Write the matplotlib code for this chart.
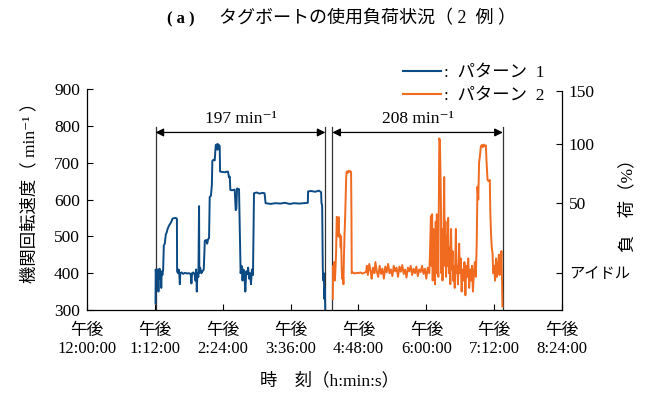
import numpy as np
import matplotlib.pyplot as plt
from matplotlib.lines import Line2D

plt.rcParams['font.family'] = ['Liberation Serif', 'Noto Sans CJK JP', 'DejaVu Sans']

# time in minutes after 12:00:00 (afternoon)
tick_minutes = [0, 72, 144, 216, 288, 360, 432, 504]
tick_labels = ['午後\n12:00:00', '午後\n1:12:00', '午後\n2:24:00', '午後\n3:36:00',
               '午後\n4:48:00', '午後\n6:00:00', '午後\n7:12:00', '午後\n8:24:00']

# pattern 1 (engine speed, min^-1)
p1_time = [72.7, 72.9, 73.5, 74.0, 74.6, 75.2, 75.8, 76.3, 77.0, 77.6, 78.2, 78.8, 79.3, 80.0, 80.8,
           81.5, 82.5, 83.6, 84.5, 85.5, 87.2, 88.5, 89.5, 90.7, 92.0, 94.0, 95.4,
           95.6, 96.5, 97.3, 98.0, 98.5, 99.0, 100.5, 102, 104, 106, 108, 110, 110.8, 111.5, 113,
           114.3, 115, 115.8, 116.5, 117.2, 118.2, 118.9, 119.2, 120, 121.4, 122.5, 123.9,
           125, 126.5, 127.5, 128.5, 129.5, 130.2, 131.5, 132.5, 133.0, 134.3, 135.5, 136.6, 138,
           138.5, 139.2, 140.8, 141.2, 143, 146, 149.6, 150.7, 151.5, 152.1, 154, 156.7, 157.8,
           158.5, 159.2, 161.3,
           163.0, 164, 165, 166, 167, 168, 169, 170, 171, 172, 173, 174, 175, 176.1,
           177.2, 180, 183, 186, 188.4, 189.5, 195, 200, 205, 210, 215, 220, 225, 230, 234.3,
           234.6, 238, 242, 246, 248.4, 248.8, 249.5, 250.2, 250.8, 251.3, 251.8, 252.3, 252.8]
p1_speed = [318, 410, 395, 405, 380, 410, 350, 400, 412, 385, 400, 360, 405, 395, 410,
            475, 480, 505, 510, 520, 530, 535, 540, 548, 549, 550, 548,
            405, 400, 410, 395, 370, 400, 402, 398, 401, 399, 400, 398, 372, 400, 402,
            395, 380, 410, 350, 400, 390, 582, 400, 415, 400, 405, 410,
            488, 490, 480, 492, 495, 607, 610, 640, 705, 708, 706, 748, 750,
            735, 750, 745, 676, 675, 674, 676, 660, 662, 626, 625, 627, 571,
            575, 630, 628,
            400, 420, 380, 410, 395, 350, 405, 398, 415, 385, 400, 370, 410, 395,
            617, 619, 616, 618, 617, 590, 588, 590, 589, 591, 588, 590, 589, 590, 591,
            622, 623, 621, 624, 620, 590, 585, 410, 380, 400, 330, 360, 300]

# pattern 2 (engine speed, min^-1)
p2_time = [260.8, 261.2, 261.8, 262.4, 263.0, 263.6, 264.3, 265.0, 265.6, 266.2, 267.1, 267.5,
           267.9, 268.5, 269.2, 269.6, 270.2, 270.7, 271.3, 272.1, 272.6, 273.2, 274.0, 275.0,
           275.6, 276.5, 277.5, 278.5, 279.5, 280.2, 280.6, 280.9, 282, 284, 286, 288, 290, 292,
           294, 296.1,
           297, 298, 299.5, 301, 302, 303.5, 305, 306, 307.5, 309, 310.5, 312, 313.5, 315, 316.5,
           318, 319.5, 321, 322.5, 324, 325.5, 327, 328.5, 330, 331.5, 333, 334.5, 336, 337.5,
           339, 340.5, 342, 343.5, 345, 346.5, 348, 349.5, 351, 352.5, 354, 355.5, 357, 358.5,
           360, 361.5, 363.2,
           364.0, 364.9, 365.5, 366.2, 366.8, 367.5, 368.0, 368.7, 369.3, 370.0, 370.6, 371.2,
           372.0, 372.8, 373.8, 374.5, 375.5, 376.0, 376.6, 377.2, 378.0, 379.0, 379.6, 380.3,
           381.0, 381.7, 382.4, 383.2, 384.0, 384.8, 385.5, 386.3, 387.0, 387.9, 388.6, 389.4,
           390.2, 391.4, 392.0, 392.8, 393.6, 394.9, 395.6, 396.5, 397.5, 398.5, 399.5, 400.5,
           401.5, 402.5, 403.5, 404.5, 405.5, 406.5, 407.5, 408.5, 409.5, 410.5, 411.5, 412.6,
           413.5, 414.3, 415.2, 416.0, 417.0, 417.9, 419, 420, 421, 422, 423.2, 424.0, 425.0,
           426, 427.4, 428.0, 428.8, 429.5, 430.3, 431, 432, 433, 434, 435, 436, 437, 437.8,
           438.5, 439.1, 439.7, 440.2, 440.8]
p2_speed = [330, 420, 395, 430, 380, 410, 455, 553, 550, 500, 552, 500,
            498, 505, 470, 500, 420, 385, 410, 370, 440, 500, 560, 660,
            676, 672, 678, 675, 677, 674, 560, 400, 402, 399, 401, 400, 402, 399,
            401, 403,
            420, 395, 425, 405, 385, 415, 400, 430, 405, 390, 420, 398, 412, 385, 418,
            402, 425, 400, 410, 392, 420, 405, 415, 390, 418, 404, 422, 398, 410,
            388, 415, 405, 420, 395, 412, 400, 418, 392, 410, 403, 420, 398, 412,
            385, 415, 400,
            460, 555, 420, 560, 380, 520, 410, 490, 370, 540, 400, 560,
            430, 390, 766, 760, 600, 400, 520, 380, 450, 661, 420, 540,
            390, 500, 420, 550, 400, 470, 370, 520, 410, 460, 380, 420,
            360, 520, 400, 420, 370, 480, 400, 440, 350, 410, 380, 430,
            340, 420, 390, 440, 360, 410, 380, 420, 350, 400, 430, 390,
            480, 635, 600, 700, 720, 745, 748, 742, 749, 745, 747, 700, 653,
            650, 653, 560, 500, 470, 454, 400, 420, 380, 440, 390, 415, 450, 395,
            450, 405, 460, 400, 310]

# duration marks
p1_start, p1_end = 72.7, 253.0
p2_start, p2_end = 260.3, 441.2

blue = '#0c4a84'
orange = '#f06a20'

fig = plt.figure(figsize=(6.51, 3.96), dpi=100)
ax = fig.add_axes([87 / 651, 1 - 310 / 396, 475 / 651, 221 / 396])

ax.plot(p1_time, p1_speed, color=blue, lw=1.4, zorder=3)
ax.plot(p2_time, p2_speed, color=orange, lw=1.4, zorder=3)

ax.set_xlim(0, 504)
ax.set_ylim(300, 900)
ax.set_yticks([300, 400, 500, 600, 700, 800, 900])
ax.set_xticks(tick_minutes)
ax.set_xticklabels(tick_labels, linespacing=1.2)
ax.tick_params(direction='in', length=4, width=0.8)
ax.tick_params(axis='x', pad=9, labelsize=12)
ax.tick_params(axis='y', pad=5, labelsize=12.5)
ax.spines['top'].set_visible(False)
ax.spines['right'].set_visible(False)
for s in ['left', 'bottom']:
    ax.spines[s].set_linewidth(0.9)

# right axis: load (%)
ax2 = ax.twinx()
ax2.set_ylim(300, 900)
ax2.set_yticks([400, 590, 750, 895])
ax2.set_yticklabels(['アイドル', '50', '100', '150'])
ax2.tick_params(direction='in', labelsize=12.5, length=4, width=0.8, pad=5)
ax2.get_yticklabels()[0].set_fontsize(11)
for s in ['top', 'left', 'bottom']:
    ax2.spines[s].set_visible(False)
ax2.spines['right'].set_bounds(300, 895)
ax2.spines['right'].set_linewidth(0.9)

# duration annotations
for x in [p1_start, p1_end, p2_start, p2_end]:
    ax.plot([x, x], [300, 797], color='#333333', lw=0.9, zorder=2)
for a, b, txt in [(p1_start, p1_end, '197 min⁻¹'), (p2_start, p2_end, '208 min⁻¹')]:
    ax.annotate('', xy=(a, 782), xytext=(b, 782),
                arrowprops=dict(arrowstyle='<|-|>', color='black', lw=0.9,
                                mutation_scale=12, shrinkA=0, shrinkB=0))
    ax.text((a + b) / 2, 798, txt, ha='center', va='bottom', fontsize=12.5)

# legend
handles = [Line2D([], [], color=blue, lw=1.5), Line2D([], [], color=orange, lw=1.5)]
fig.legend(handles, [':  パターン  1', ':  パターン  2'], loc='upper left',
           bbox_to_anchor=(394 / 651, 1 - 56 / 396), frameon=False, fontsize=12.5,
           handlelength=2.2, handletextpad=0.2, labelspacing=0.4, borderpad=0)

# titles and axis labels
fig.text(167 / 651, 1 - 19 / 396, '( a )', fontsize=12, fontweight='bold', va='center', ha='left')
fig.text(219 / 651, 1 - 19 / 396, 'タグボートの使用負荷状況（ 2  例 ）', fontsize=13,
         va='center', ha='left')
fig.text(30 / 651, 1 - 188 / 396, '機関回転速度（ min⁻¹ ）', rotation=90, fontsize=12.5,
         ha='center', va='center')
fig.text(628 / 651, 1 - 201 / 396, '負　荷（%）', rotation=90, fontsize=12.5,
         ha='center', va='center')
fig.text(330 / 651, 1 - 381 / 396, '時　刻（h:min:s）', fontsize=12.5, ha='center', va='center')

fig.savefig('out.png', dpi=100)
